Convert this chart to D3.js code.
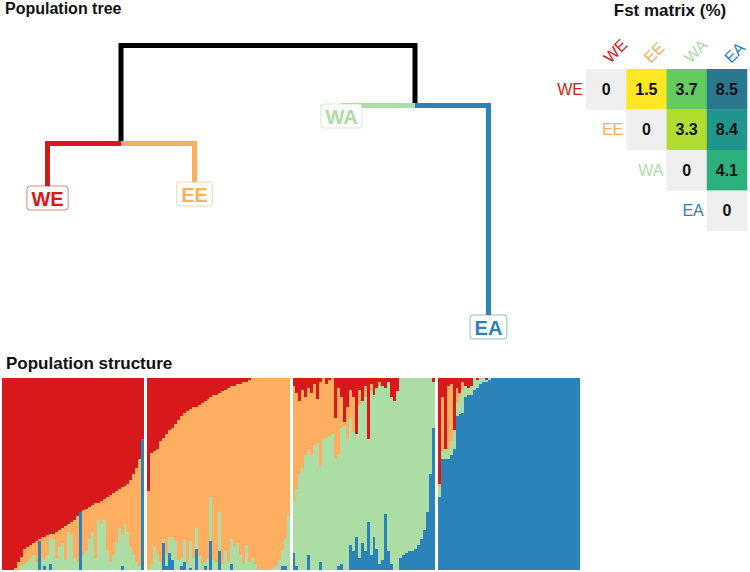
<!DOCTYPE html>
<html>
<head>
<meta charset="utf-8">
<script src="https://cdn.jsdelivr.net/npm/d3@7"></script>
<style>
  body { margin: 0; background: #fff; }
  text { font-family: "Liberation Sans", Arial, sans-serif; }
</style>
</head>
<body>
<svg id="chart" width="750" height="572"></svg>
<script>
// ---------------- data ----------------
const populations = ["WE", "EE", "WA", "EA"];
const popColors = ["#d7191c", "#fdae61", "#abdda4", "#2b83ba"];

// population tree (branch lengths)
const treeIds = ["root", "nodeA", "nodeB", "WE", "EE", "WA", "EA"];
const treeParents = ["", "root", "root", "nodeA", "nodeA", "nodeB", "nodeB"];
const branchLengths = [0, 0.98, 0.60, 0.44, 0.40, 0.00, 2.11];

// Fst matrix (%), upper triangle
const fstWE = [0, 1.5, 3.7, 8.5];
const fstEE = [null, 0, 3.3, 8.4];
const fstWA = [null, null, 0, 4.1];
const fstEA = [null, null, null, 0];

// admixture proportions (%) per individual, each population sorted
const WE_red    = [100,100,100,100,99,96,93,89,88,87,86,85,84,83,83,82,81,81,80,79,78,77,76,75,74,72,70,69,68,67,66,65,65,64,63,62,61,60,59,58,57,56,55,53,50,47,42,32];
const WE_orange = [0,0,0,0,1,4,5,8,8,7,6,11,1,11,12,10,2,3,14,9,8,18,4,7,20,24,0,23,22,17,14,29,9,12,11,28,35,32,27,20,25,20,25,35,42,49,56,0];
const WE_green  = [0,0,0,0,0,0,2,3,4,6,8,4,0,6,3,8,14,16,6,12,14,5,20,18,6,4,0,8,10,16,20,6,26,24,26,10,4,8,14,22,16,24,20,12,8,4,2,0];
const WE_blue   = [0,0,0,0,0,0,0,0,0,0,0,0,15,0,2,0,3,0,0,0,0,0,0,0,0,0,30,0,0,0,0,0,0,0,0,0,0,0,0,0,2,0,0,0,0,0,0,68];

const EE_red    = [59,39,38,37,33,31,29,27,26,24,22,20,18,17,16,15,15,14,13,12,11,10,9,9,8,7,6,5,4,4,3,3,2,2,1,0,0,0,0,0,0,0,0,0,0,0,0,0];
const EE_orange = [41,58,50,55,63,53,63,56,57,61,73,74,66,80,69,79,63,78,84,84,83,52,86,87,62,90,84,91,80,84,83,89,95,85,95,94,97,100,100,100,100,100,99,98,95,90,84,72];
const EE_green  = [0,3,12,8,4,2,6,8,12,15,5,4,12,3,14,6,11,8,3,2,6,23,5,4,20,3,10,4,13,12,14,8,3,13,4,6,3,0,0,0,0,0,1,2,5,8,14,28];
const EE_blue   = [0,0,0,0,0,14,2,9,5,0,0,2,4,0,1,0,11,0,0,2,0,15,0,0,10,0,0,0,3,0,0,0,0,0,0,0,0,0,0,0,0,0,0,0,0,2,2,0];

const WA_red    = [4,8,12,6,10,5,8,3,11,2,0,3,1,0,21,5,10,23,15,6,10,29,6,12,4,32,3,9,5,2,4,5,2,10,12,7,0,0,0,0,0,0,0,0,0,0,0,2];
const WA_orange = [60,50,38,41,30,33,32,32,23,44,32,28,29,29,21,35,16,2,17,15,18,0,8,0,6,0,4,0,0,2,0,0,0,0,0,0,0,0,0,0,0,0,0,0,0,0,0,0];
const WA_green  = [27,40,50,53,60,54,60,65,66,50,68,69,70,71,58,58,71,75,68,66,62,54,80,74,80,43,85,74,84,93,91,66,88,87,88,93,94,92,91,90,90,89,87,84,79,70,50,24];
const WA_blue   = [9,2,0,0,0,8,0,0,0,4,0,0,0,0,0,2,3,0,0,13,10,17,6,14,10,25,8,17,11,3,5,29,10,3,0,0,6,8,9,10,10,11,13,16,21,30,50,74];

const EA_red    = [55,10,37,4,3,27,5,8,2,4,5,4,0,1,0,0,1,0,0,0,0,0,0,0,0,0,0,0,0,0,0,0,0,0,0,0,0,0,0,0,0,0,0,0,0,0,0,0];
const EA_orange = [2,28,0,33,30,0,8,2,4,0,0,0,0,0,0,0,0,0,0,0,0,0,0,0,0,0,0,0,0,0,0,0,0,0,0,0,0,0,0,0,0,0,0,0,0,0,0,0];
const EA_green  = [5,4,5,5,7,10,7,9,12,6,4,5,6,4,3,2,1,1,0,0,0,0,0,0,0,0,0,0,0,0,0,0,0,0,0,0,0,0,0,0,0,0,0,0,0,0,0,0];
const EA_blue   = [38,58,58,58,60,63,80,81,82,90,91,91,94,95,97,98,98,99,100,100,100,100,100,100,100,100,100,100,100,100,100,100,100,100,100,100,100,100,100,100,100,100,100,100,100,100,100,100];

// ---------------- drawing ----------------
const svg = d3.select("#chart");
const color = d3.scaleOrdinal(populations, popColors);

// ===== Population tree =====
svg.append("text").attr("x", 5).attr("y", 14)
  .attr("font-size", 16).attr("font-weight", "bold").attr("fill", "#111")
  .text("Population tree");

const treeTable = treeIds.map((id, i) => ({ id, parent: treeParents[i] || null, length: branchLengths[i] }));
const root = d3.stratify().id(d => d.id).parentId(d => d.parent)(treeTable);
root.eachBefore(n => { n.dist = (n.parent ? n.parent.dist : 0) + n.data.length; });
const leaves = root.leaves();
const xTree = d3.scalePoint(leaves.map(d => d.id), [47.5, 488.5]);
const yTree = d3.scaleLinear([0, d3.max(leaves, d => d.dist)], [45.5, 316.5]);
root.eachAfter(n => {
  n.px = n.children ? d3.mean(n.children, c => c.px) : xTree(n.id);
  n.py = yTree(n.dist);
});

const gTree = svg.append("g");
gTree.selectAll("path.branch")
  .data(root.descendants().filter(d => d.parent))
  .join("path")
  .attr("class", "branch")
  .attr("d", d => {
    const back = d.parent.parent ? 0 : (d.px < d.parent.px ? 1.5 : -1.5); // overlap at root
    return `M${d.parent.px + back},${d.parent.py}H${d.px}V${d.py}`;
  })
  .attr("fill", "none")
  .attr("stroke", d => d.children ? "#000" : color(d.id))
  .attr("stroke-width", 5)
  .attr("stroke-linejoin", "miter");

const labelG = gTree.selectAll("g.leaf")
  .data(leaves)
  .join("g")
  .attr("class", "leaf")
  .attr("transform", d => `translate(${d.px},${d.py - 1.5})`);
labelG.each(function(d) {
  const g = d3.select(this);
  const rect = g.append("rect");
  const t = g.append("text")
    .attr("text-anchor", "middle").attr("y", 19.5)
    .attr("font-size", 20).attr("font-weight", "bold")
    .attr("fill", color(d.id)).text(d.id);
  const w = t.node().getComputedTextLength();
  rect.attr("x", -w / 2 - 4.5).attr("width", w + 9)
    .attr("y", 0).attr("height", 24).attr("rx", 3)
    .attr("fill", "#fff").attr("stroke", color(d.id))
    .attr("stroke-opacity", 0.55).attr("stroke-width", 1);
});

// ===== Fst matrix =====
const fstMatrix = [fstWE, fstEE, fstWA, fstEA];
svg.append("text").attr("x", 670).attr("y", 16)
  .attr("text-anchor", "middle")
  .attr("font-size", 17).attr("font-weight", "bold").attr("fill", "#111")
  .text("Fst matrix (%)");

const xF = d3.scaleBand(populations, [586, 747]);
const yF = d3.scaleBand(populations, [69, 231]);
const cells = [];
fstMatrix.forEach((row, i) => row.forEach((v, j) => {
  if (v !== null) cells.push({ r: populations[i], c: populations[j], v, diag: i === j });
}));
const offVals = cells.filter(d => !d.diag).map(d => d.v).sort(d3.ascending);
const tScale = d3.scalePoint(offVals, [1, 0.4]);
const gF = svg.append("g");
gF.selectAll("rect").data(cells).join("rect")
  .attr("x", d => xF(d.c)).attr("y", d => yF(d.r))
  .attr("width", xF.bandwidth() + 0.3).attr("height", yF.bandwidth() + 0.3)
  .attr("fill", d => d.diag ? "#efefef" : d3.interpolateViridis(tScale(d.v)));
gF.selectAll("text.val").data(cells).join("text")
  .attr("class", "val")
  .attr("x", d => xF(d.c) + xF.bandwidth() / 2)
  .attr("y", d => yF(d.r) + yF.bandwidth() / 2)
  .attr("dy", "0.35em").attr("text-anchor", "middle")
  .attr("font-size", 16).attr("font-weight", "bold").attr("fill", "#111")
  .text(d => d3.format("")(d.v));
// row labels
gF.selectAll("text.rowlab").data(populations).join("text")
  .attr("class", "rowlab")
  .attr("x", d => xF(d) - 3)
  .attr("y", d => yF(d) + yF.bandwidth() / 2)
  .attr("dy", "0.35em").attr("text-anchor", "end")
  .attr("font-size", 16).attr("fill", d => color(d))
  .text(d => d);
// column labels
gF.selectAll("text.collab").data(populations).join("text")
  .attr("class", "collab")
  .attr("transform", d => `translate(${xF(d) + xF.bandwidth() / 2 + 4},${64}) rotate(-45)`)
  .attr("text-anchor", "start")
  .attr("font-size", 16).attr("fill", d => color(d))
  .text(d => d);

// ===== Population structure =====
svg.append("text").attr("x", 6).attr("y", 369)
  .attr("font-size", 17).attr("font-weight", "bold").attr("fill", "#111")
  .text("Population structure");

const admix = {
  WE: [WE_red, WE_orange, WE_green, WE_blue],
  EE: [EE_red, EE_orange, EE_green, EE_blue],
  WA: [WA_red, WA_orange, WA_green, WA_blue],
  EA: [EA_red, EA_orange, EA_green, EA_blue]
};
const individuals = [];
populations.forEach(p => {
  const [r, o, g, b] = admix[p];
  r.forEach((_, i) => individuals.push({
    pop: p, idx: i, WE: r[i] / 100, EE: o[i] / 100, WA: g[i] / 100, EA: b[i] / 100
  }));
});

const xPop = d3.scaleBand(populations, [2, 580]).paddingInner(0.0207);
const nInd = WE_red.length;
const xInd = d3.scaleBand(d3.range(nInd), [0, xPop.bandwidth()]);
const yS = d3.scaleLinear([0, 1], [570, 378]);
const stackOrder = ["EA", "WA", "EE", "WE"]; // bottom to top
const series = d3.stack().keys(stackOrder)(individuals);

const gS = svg.append("g").attr("shape-rendering", "crispEdges");
gS.selectAll("g").data(series).join("g")
  .attr("fill", s => color(s.key))
  .selectAll("rect").data(s => s).join("rect")
  .attr("x", d => xPop(d.data.pop) + xInd(d.data.idx))
  .attr("width", xInd.bandwidth() + 0.01)
  .attr("y", d => yS(d[1]))
  .attr("height", d => Math.max(0, yS(d[0]) - yS(d[1])));
</script>
</body>
</html>
